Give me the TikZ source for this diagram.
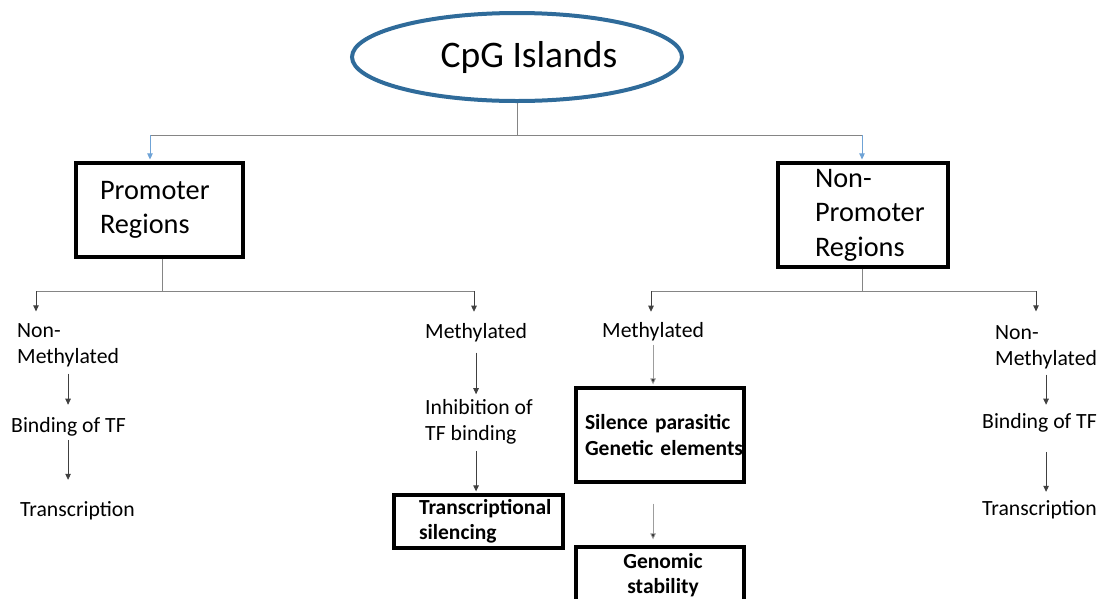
\documentclass[tikz,border=0pt]{standalone}
\usepackage{fontspec}
\setmainfont{Carlito}
\usetikzlibrary{arrows.meta,shapes.geometric}
\hyphenpenalty=10000
\exhyphenpenalty=10000
\definecolor{ellblue}{HTML}{2F6B9A}
\definecolor{arrblue}{HTML}{6FA3D6}
\definecolor{lgray}{HTML}{858585}
\begin{document}
\begin{tikzpicture}[x=1pt,y=-1pt,
  gline/.style={draw=lgray, line width=0.9pt},
  arr/.style={draw=black!75, line width=0.8pt, -{Triangle[length=6pt,width=5.5pt]}},
  larr/.style={draw=lgray!80, line width=0.8pt, -{Triangle[length=6pt,width=5.5pt,fill=black!80]}},
  barr/.style={draw=arrblue, line width=0.9pt, -{Triangle[length=6pt,width=5.5pt]}},
  txt/.style={font=\fontsize{21.7}{25.5}\selectfont, inner sep=0pt, align=left, anchor=base west},
  box/.style={draw=black, line width=3.2pt, align=left, inner ysep=0pt},
  bigbox/.style={box, font=\fontsize{28.3}{34.5}\selectfont},
  boldbox/.style={box, font=\fontsize{21.5}{25.5}\selectfont\bfseries}
]
\useasboundingbox (0,0) rectangle (1102,598);

% top
\node[ellipse, draw=ellblue, line width=4pt, minimum width=330pt, minimum height=88pt,
      inner sep=0pt, font=\fontsize{37.5}{44}\selectfont] (cpg) at (517,57) {\hspace*{24pt}CpG Islands};

\node[bigbox, minimum width=167pt, minimum height=94pt, text width=119pt, inner xsep=24pt] (prom) at (159.5,210) {Promoter\\Regions};
\node[bigbox, minimum width=170pt, minimum height=104pt, text width=96pt, inner xsep=37pt] (nprom) at (863,215) {Non-\\\mbox{Promoter}\\Regions};

% left branch texts (base = last line)
\node[txt] (nm1) at (17,363) {Non-\\Methylated};
\node[txt] (b1) at (11,432) {Binding of TF};
\node[txt] (t1) at (20,516) {Transcription};

\node[txt] (m2) at (425,338) {Methylated};
\node[txt] (inh) at (425,440) {Inhibition of\\TF binding};
\node[boldbox, minimum width=169pt, minimum height=53pt, text width=119pt, inner xsep=25pt] (trs) at (478.5,521.5) {\mbox{Transcriptional}\\silencing};

% right branch texts
\node[txt] (m3) at (602,337) {Methylated};
\node[boldbox, minimum width=168pt, minimum height=94pt, text width=150pt, inner xsep=9pt] (sil) at (660,435) {\mbox{Silence parasitic}\\\mbox{Genetic elements}};
\node[boldbox, align=center, minimum width=168pt, minimum height=56pt, text width=150pt, inner xsep=9pt] (gen) at (660,575) {\hspace*{6pt}Genomic\\\hspace*{6pt}stability};

\node[txt] (nm4) at (995,365) {Non-\\Methylated};
\node[txt] (b4) at (982,428) {Binding of TF};
\node[txt] (t4) at (982,515) {Transcription};

% connectors from the top
\coordinate (j0) at (517,135);
\coordinate (jl) at (150,135);
\coordinate (jr) at (862,135);
\draw[gline] (cpg.south) -- (j0);
\draw[gline] (jl) -- (jr);
\draw[barr, shorten >=2pt] (jl) -- (jl |- prom.north);
\draw[barr, shorten >=2pt] (jr) -- (jr |- nprom.north);

% promoter branch
\coordinate (pj) at (162,291);
\coordinate (pl) at (36,291);
\coordinate (pr) at (474,291);
\draw[gline] (pj |- prom.south) -- (pj);
\draw[gline] (pl) -- (pr);
\draw[arr, shorten >=12pt] (pl) -- (pl |- nm1.north);
\draw[arr, shorten >=11pt] (pr) -- (pr |- m2.north);

\draw[arr, shorten <=7pt, shorten >=12pt] (nm1.south) -- (nm1.south |- b1.north);
\draw[arr, shorten <=4pt, shorten >=21pt] (b1.south -| nm1.south) -- (nm1.south |- t1.north);
\draw[arr, shorten <=11pt, shorten >=5pt] (m2.south) -- (m2.south |- inh.north);
\draw[arr, shorten <=7pt, shorten >=2pt] (inh.south -| m2.south) -- (m2.south |- trs.north);

% non-promoter branch
\coordinate (nj) at (862,291);
\coordinate (nl) at (651,291);
\coordinate (nr) at (1036,291);
\draw[gline] (nj |- nprom.south) -- (nj);
\draw[gline] (nl) -- (nr);
\draw[arr, shorten >=10pt] (nl) -- (nl |- m3.north);
\draw[arr, shorten >=14pt] (nr) -- (nr |- nm4.north);

\draw[larr, shorten <=4pt, shorten >=2pt] (m3.south) -- (m3.south |- sil.north);
\draw[larr, shorten <=20pt, shorten >=6pt] (sil.south -| m3.south) -- (m3.south |- gen.north);

\draw[arr, shorten <=6pt, shorten >=8pt] (nm4.south) -- (nm4.south |- b4.north);
\draw[arr, shorten <=20pt, shorten >=8pt] (b4.south -| nm4.south) -- (nm4.south |- t4.north);
\end{tikzpicture}
\end{document}
